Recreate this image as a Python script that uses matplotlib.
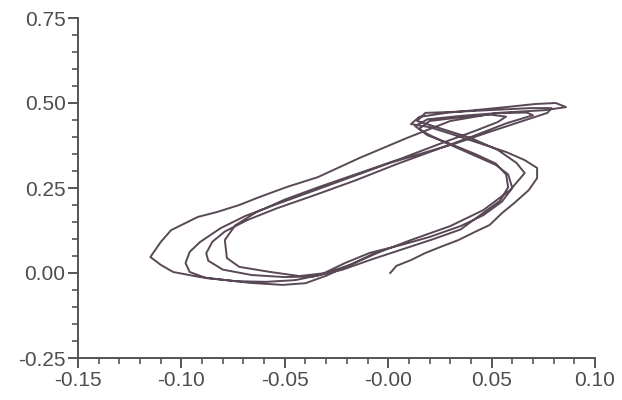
"""
Phase-plane style trajectory, redrawn from a scanned figure.
"""

import matplotlib

matplotlib.use("Agg")

import matplotlib.pyplot as plt
from matplotlib.ticker import MultipleLocator

# trajectory (x, y in data units)
traj_x = [
    0.001, 0.004, 0.011, 0.018, 0.025, 0.034, 0.042, 0.049, 0.055, 0.061,
    0.068, 0.072, 0.072, 0.066, 0.057, 0.044, 0.032, 0.020, 0.011, 0.015,
    0.028, 0.042, 0.057, 0.071, 0.081, 0.086, 0.076, 0.053, 0.030, 0.009,
    -0.014, -0.034, -0.049, -0.062, -0.072, -0.083, -0.092, -0.105, -0.110, -0.115,
    -0.110, -0.104, -0.091, -0.078, -0.067, -0.051, -0.040, -0.030, -0.018, -0.004,
    0.011, 0.030, 0.046, 0.059, 0.066, 0.062, 0.053, 0.040, 0.025, 0.014,
    0.018, 0.032, 0.049, 0.069, 0.079, 0.077, 0.065, 0.049, 0.033, 0.017,
    0.001, -0.018, -0.038, -0.055, -0.069, -0.081, -0.091, -0.096, -0.098, -0.096,
    -0.088, -0.074, -0.059, -0.045, -0.033, -0.021, -0.009, 0.006, 0.020, 0.035,
    0.046, 0.055, 0.060, 0.058, 0.052, 0.040, 0.027, 0.017, 0.013, 0.019,
    0.035, 0.052, 0.067, 0.070, 0.057, 0.040, 0.022, 0.004, -0.016, -0.036,
    -0.054, -0.068, -0.079, -0.085, -0.088, -0.087, -0.080, -0.066, -0.050, -0.036,
    -0.022, -0.008, 0.007, 0.021, 0.035, 0.044, 0.054, 0.058, 0.057, 0.052,
    0.042, 0.030, 0.019, 0.015, 0.020, 0.035, 0.049, 0.057, 0.053, 0.042,
    0.025, 0.006, -0.014, -0.033, -0.050, -0.064, -0.074, -0.079, -0.078, -0.072,
    -0.057, -0.043, -0.030, -0.018, -0.006,
]
traj_y = [
    0.000, 0.021, 0.038, 0.059, 0.076, 0.097, 0.121, 0.141, 0.176, 0.206,
    0.244, 0.279, 0.309, 0.332, 0.356, 0.382, 0.406, 0.429, 0.438, 0.459,
    0.471, 0.479, 0.488, 0.497, 0.500, 0.488, 0.479, 0.471, 0.447, 0.397,
    0.338, 0.282, 0.253, 0.224, 0.200, 0.179, 0.165, 0.126, 0.091, 0.047,
    0.024, 0.003, -0.012, -0.021, -0.029, -0.035, -0.030, -0.008, 0.025, 0.062,
    0.097, 0.138, 0.185, 0.244, 0.294, 0.324, 0.362, 0.397, 0.426, 0.447,
    0.471, 0.474, 0.479, 0.485, 0.485, 0.471, 0.447, 0.415, 0.382, 0.353,
    0.324, 0.282, 0.238, 0.200, 0.168, 0.132, 0.091, 0.062, 0.029, 0.003,
    -0.015, -0.024, -0.026, -0.021, -0.006, 0.029, 0.059, 0.082, 0.106, 0.138,
    0.170, 0.210, 0.250, 0.290, 0.318, 0.350, 0.385, 0.415, 0.432, 0.452,
    0.462, 0.470, 0.472, 0.464, 0.440, 0.400, 0.360, 0.320, 0.272, 0.228,
    0.190, 0.156, 0.122, 0.092, 0.058, 0.036, 0.010, -0.006, -0.012, -0.010,
    0.010, 0.040, 0.070, 0.098, 0.128, 0.168, 0.212, 0.252, 0.290, 0.322,
    0.350, 0.380, 0.405, 0.424, 0.447, 0.458, 0.466, 0.460, 0.444, 0.418,
    0.380, 0.336, 0.294, 0.254, 0.216, 0.178, 0.140, 0.097, 0.044, 0.018,
    0.003, -0.009, 0.000, 0.025, 0.060,
]

x_ticks = [-0.15, -0.10, -0.05, 0.00, 0.05, 0.10]
x_tick_labels = ["-0.15", "-0.10", "-0.05", "-0.00", "0.05", "0.10"]
y_ticks = [-0.25, 0.00, 0.25, 0.50, 0.75]
y_tick_labels = ["-0.25", "0.00", "0.25", "0.50", "0.75"]

line_color = "#594956"
axis_color = "#555555"

plt.rcParams["font.family"] = ["Liberation Sans", "DejaVu Sans"]

fig = plt.figure(figsize=(6.22, 4.0), dpi=100)
ax = fig.add_axes([78 / 622, 42 / 400, 517 / 622, 340 / 400])

ax.plot(traj_x, traj_y, color=line_color, linewidth=1.4)

ax.set_xlim(-0.15, 0.10)
ax.set_ylim(-0.25, 0.75)

ax.set_xticks(x_ticks)
ax.set_xticklabels(x_tick_labels)
ax.set_yticks(y_ticks)
ax.set_yticklabels(y_tick_labels)
ax.xaxis.set_minor_locator(MultipleLocator(0.01))
ax.yaxis.set_minor_locator(MultipleLocator(0.05))

for side in ["top", "right"]:
    ax.spines[side].set_visible(False)
for side in ["left", "bottom"]:
    ax.spines[side].set_color(axis_color)
    ax.spines[side].set_linewidth(1.4)

ax.tick_params(which="major", length=7, width=1.4, color=axis_color,
               labelsize=15, labelcolor="#4d4d4d", pad=2)
ax.tick_params(which="minor", length=4, width=1.2, color=axis_color)

fig.savefig("out.png", dpi=100)
